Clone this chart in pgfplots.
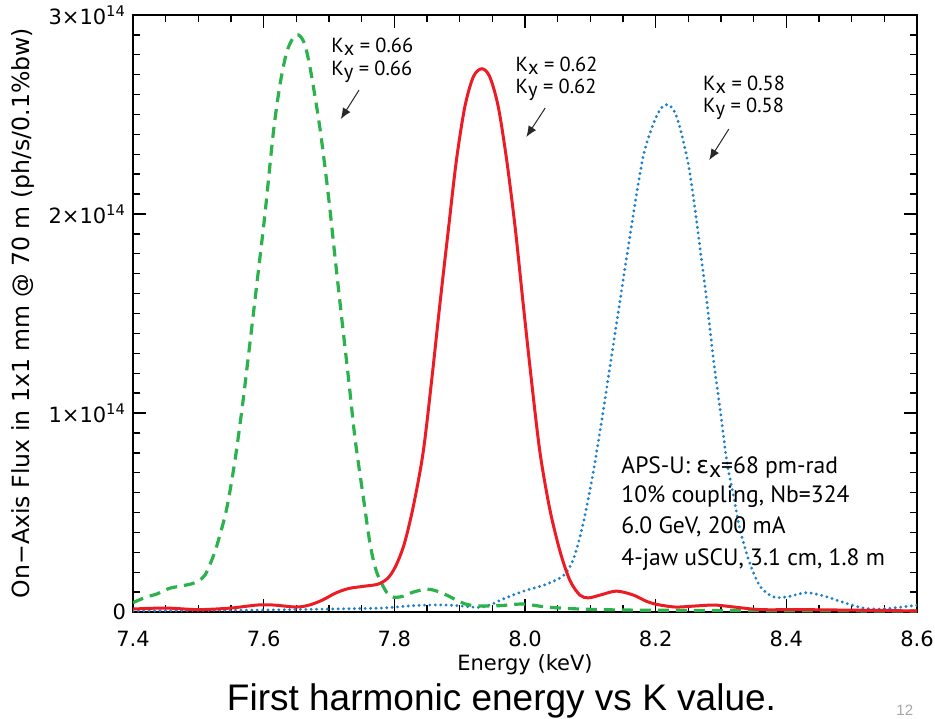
\documentclass[border=0pt]{standalone}
\usepackage{fontspec}
\setmainfont{DejaVu Sans}
\newfontfamily\annot{PT Sans}
\newfontfamily\capfont{Liberation Sans}
\newfontfamily\grk{DejaVu Sans}
\usepackage{pgfplots}
\pgfplotsset{compat=1.18}
\usetikzlibrary{arrows.meta}
\definecolor{cgreen}{RGB}{43,178,76}
\definecolor{cred}{RGB}{237,28,36}
\definecolor{cblue}{RGB}{30,128,200}
\definecolor{arr}{RGB}{40,40,40}

\pgfplotstableread{
E v
7.400 0.047
7.420 0.075
7.436 0.090
7.455 0.118
7.472 0.130
7.488 0.140
7.500 0.155
7.510 0.185
7.518 0.240
7.528 0.330
7.543 0.513
7.556 0.760
7.568 1.050
7.580 1.380
7.592 1.717
7.602 2.000
7.615 2.415
7.625 2.650
7.635 2.810
7.645 2.885
7.653 2.900
7.662 2.860
7.671 2.736
7.686 2.434
7.699 2.094
7.709 1.790
7.719 1.490
7.730 1.170
7.740 0.868
7.753 0.566
7.763 0.339
7.773 0.200
7.788 0.100
7.798 0.075
7.812 0.078
7.829 0.100
7.850 0.115
7.865 0.105
7.880 0.085
7.895 0.060
7.911 0.038
7.931 0.030
7.962 0.032
7.997 0.040
8.033 0.025
8.084 0.015
8.150 0.010
8.250 0.008
8.350 0.007
8.450 0.006
8.600 0.005
}\greentab

\pgfplotstableread{
E v
7.400 0.015
7.450 0.020
7.500 0.012
7.550 0.020
7.590 0.035
7.615 0.035
7.650 0.025
7.670 0.035
7.690 0.060
7.710 0.095
7.730 0.118
7.755 0.130
7.775 0.140
7.790 0.170
7.802 0.230
7.815 0.340
7.829 0.530
7.844 0.800
7.857 1.160
7.870 1.555
7.883 1.930
7.895 2.270
7.908 2.540
7.921 2.690
7.934 2.730
7.946 2.690
7.959 2.540
7.972 2.270
7.985 1.930
7.997 1.555
8.010 1.160
8.023 0.800
8.038 0.516
8.054 0.300
8.069 0.157
8.084 0.085
8.097 0.071
8.115 0.085
8.140 0.105
8.166 0.085
8.185 0.055
8.202 0.038
8.230 0.025
8.260 0.030
8.290 0.035
8.320 0.025
8.360 0.012
8.420 0.012
8.480 0.010
8.540 0.008
8.600 0.005
}\redtab

\pgfplotstableread{
E v
7.400 0.005
7.500 0.008
7.600 0.010
7.700 0.015
7.780 0.020
7.820 0.030
7.850 0.035
7.880 0.035
7.910 0.028
7.931 0.023
7.950 0.040
7.962 0.059
7.997 0.104
8.033 0.140
8.059 0.184
8.074 0.265
8.089 0.444
8.105 0.713
8.120 1.018
8.135 1.340
8.150 1.663
8.166 2.003
8.181 2.290
8.196 2.450
8.208 2.530
8.218 2.550
8.228 2.520
8.237 2.436
8.250 2.250
8.260 2.030
8.268 1.825
8.278 1.570
8.288 1.280
8.299 1.010
8.309 0.756
8.319 0.586
8.329 0.416
8.344 0.246
8.360 0.128
8.380 0.076
8.401 0.076
8.431 0.097
8.462 0.076
8.492 0.043
8.523 0.017
8.554 0.017
8.600 0.034
}\bluetab

\begin{document}
\begin{tikzpicture}[x=0.5pt,y=0.5pt]
\useasboundingbox (0,0) rectangle (935,718);
\begin{axis}[
  at={(66.5pt,53pt)}, anchor=south west,
  scale only axis, width=392pt, height=298.5pt,
  xmin=7.4, xmax=8.6, ymin=0, ymax=3,
  xtick={7.4,7.6,7.8,8.0,8.2,8.4,8.6},
  xticklabels={7.4,7.6,7.8,8.0,8.2,8.4,8.6},
  ytick={0,1,2,3},
  yticklabels={0,1×10\textsuperscript{14},2×10\textsuperscript{14},3×10\textsuperscript{14}},
  minor x tick num=3, minor y tick num=9,
  tick align=inside,
  major tick length=6.5pt, minor tick length=3.5pt,
  every tick/.style={black, line width=0.7pt},
  axis line style={line width=0.9pt},
  tick label style={font=\fontsize{10.5}{12}\selectfont},
  xticklabel style={yshift=-6pt},
  clip=true,
]
\addplot[cblue, line width=1.6pt, line cap=round, dash pattern=on 0pt off 2.7pt, smooth] table[x=E,y=v]{\bluetab};
\addplot[cgreen, line width=1.6pt, dash pattern=on 5.5pt off 3.5pt, smooth] table[x=E,y=v]{\greentab};
\addplot[cred, line width=1.5pt, smooth] table[x=E,y=v]{\redtab};

\begin{scope}[font=\annot\fontsize{10.2}{12}\selectfont, every node/.style={anchor=base west, inner sep=0pt, text=black}]
\node at (axis cs:7.703,2.814) {K\raisebox{-0.3ex}{x} = 0.66};
\node at (axis cs:7.703,2.698) {K\raisebox{-0.3ex}{y} = 0.66};
\node at (axis cs:7.985,2.714) {K\raisebox{-0.3ex}{x} = 0.62};
\node at (axis cs:7.985,2.608) {K\raisebox{-0.3ex}{y} = 0.62};
\node at (axis cs:8.272,2.623) {K\raisebox{-0.3ex}{x} = 0.58};
\node at (axis cs:8.272,2.508) {K\raisebox{-0.3ex}{y} = 0.58};
\end{scope}
\draw[arr, line width=0.5pt, -{Latex[length=5.5pt,width=4.5pt]}] (axis cs:7.746,2.623) -- (axis cs:7.718,2.477);
\draw[arr, line width=0.5pt, -{Latex[length=5.5pt,width=4.5pt]}] (axis cs:8.031,2.533) -- (axis cs:8.002,2.387);
\draw[arr, line width=0.5pt, -{Latex[length=5.5pt,width=4.5pt]}] (axis cs:8.312,2.427) -- (axis cs:8.282,2.271);

\begin{scope}[font=\annot\fontsize{11.8}{14}\selectfont, every node/.style={anchor=base west, inner sep=0pt, text=black}]
\node at (axis cs:8.147,0.698) {APS-U: {\grk ε}\raisebox{-0.35ex}{x}=68 pm-rad};
\node at (axis cs:8.147,0.548) {10\% coupling, Nb=324};
\node at (axis cs:8.147,0.392) {6.0 GeV, 200 mA};
\node at (axis cs:8.147,0.236) {4-jaw uSCU, 3.1 cm, 1.8 m};
\end{scope}
\end{axis}

\node[font=\fontsize{10.5}{12}\selectfont, anchor=base] at (525,48) {Energy (keV)};
\node[font=\fontsize{11.8}{13}\selectfont, rotate=90] at (23,405) {On−Axis Flux in 1x1 mm @ 70 m (ph/s/0.1\%bw)};
\node[font=\capfont\fontsize{18.5}{20}\selectfont, anchor=base] at (501.5,8) {First harmonic energy vs K value.};
\node[font=\capfont\fontsize{7.5}{9}\selectfont, text=black!35, anchor=base west, inner sep=0pt] at (896,3) {12};
\end{tikzpicture}
\end{document}
